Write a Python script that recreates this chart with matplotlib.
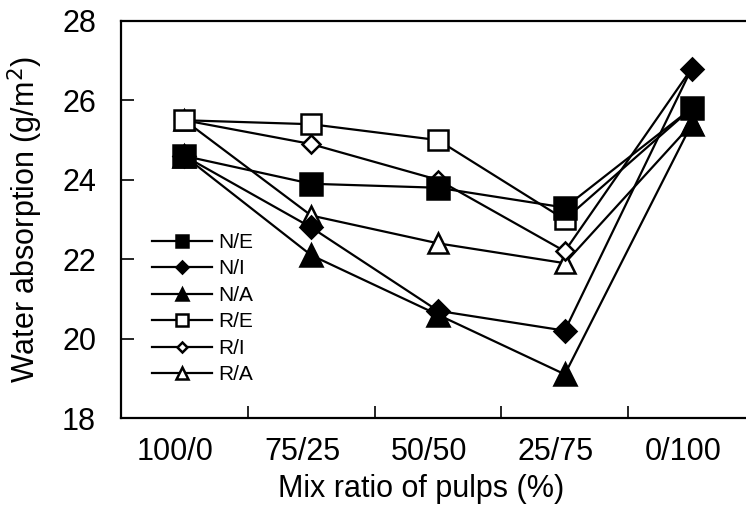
import matplotlib
matplotlib.use("Agg")
import matplotlib.pyplot as plt
from matplotlib.ticker import FixedLocator, NullFormatter

plt.rcParams["font.family"] = ["Liberation Sans", "DejaVu Sans"]

# mix ratios (first pulp / second pulp)
categories = ["100/0", "75/25", "50/50", "25/75", "0/100"]

# water absorption, g/m^2
n_e = [24.6, 23.9, 23.8, 23.3, 25.8]
n_i = [24.6, 22.8, 20.7, 20.2, 26.8]
n_a = [24.6, 22.1, 20.6, 19.1, 25.4]
r_e = [25.5, 25.4, 25.0, 23.0, 25.8]
r_i = [25.5, 24.9, 24.0, 22.2, 26.8]
r_a = [25.5, 23.1, 22.4, 21.9, 25.4]

W, H = 746, 508
fig = plt.figure(figsize=(W / 100, H / 100), dpi=100)

# axes runs past the right edge of the picture, like the original crop
ax = fig.add_axes([121 / W, 1 - 418 / H, 634 / W, 397 / H])
x = list(range(len(categories)))
ax.set_xlim(-0.5, len(categories) - 0.5)
ax.set_ylim(18, 28)
ax.set_yticks(range(18, 29, 2))

# ticks sit between categories, labels under each category
ax.xaxis.set_major_locator(FixedLocator([i + 0.5 for i in x[:-1]]))
ax.xaxis.set_major_formatter(NullFormatter())
ax.xaxis.set_minor_locator(FixedLocator([i - 0.07 for i in x]))
ax.set_xticklabels(categories, minor=True)
ax.tick_params(axis="x", which="major", direction="in", length=9, width=1.2)
ax.tick_params(axis="x", which="minor", length=0, pad=14, labelsize=22)
ax.tick_params(axis="y", direction="in", length=9, width=1.2, pad=18, labelsize=22)
ax.spines["right"].set_visible(False)
for s in ("left", "bottom", "top"):
    ax.spines[s].set_linewidth(1.6)

ax.set_xlabel("Mix ratio of pulps (%)", fontsize=22, labelpad=5)
ax.xaxis.label.set_x(0.473)
ax.set_ylabel("Water absorption (g/m$^2$)", fontsize=22, labelpad=12)

series = [
    ("N/E", n_e, "s", 15.5, "black", 6),
    ("N/I", n_i, "D", 11, "black", 5),
    ("N/A", n_a, "^", 16, "black", 4),
    ("R/E", r_e, "s", 15, "white", 3),
    ("R/I", r_i, "D", 9, "white", 2.5),
    ("R/A", r_a, "^", 15, "white", 2),
]
for label, vals, mk, ms, face, z in series:
    ax.plot(x, vals, color="black", lw=1.6, marker=mk, ms=ms,
            mfc=face, mec="black", mew=1.8, label=label, zorder=z)

ax.legend(loc="upper left", bbox_to_anchor=(0.049, 0.466), frameon=False,
          borderpad=0, borderaxespad=0, fontsize=15, handlelength=2.9,
          handletextpad=0.3, labelspacing=0.36, markerscale=0.55)

fig.savefig("out.png", dpi=100)
